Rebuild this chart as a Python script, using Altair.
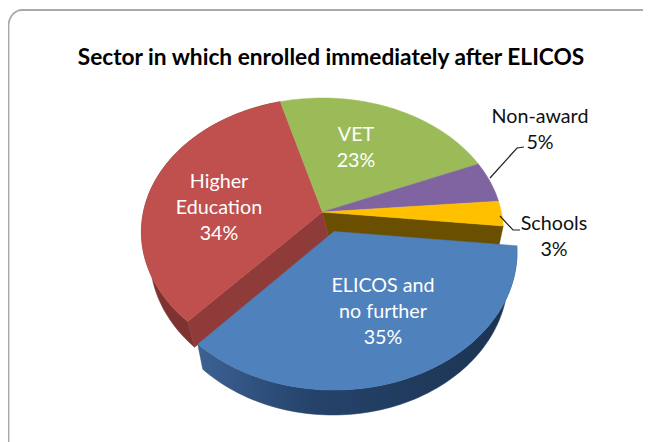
import math
import altair as alt
import pandas as pd

# ---- chart values ----
categories = ["ELICOS and no further", "Higher Education", "VET", "Non-award", "Schools"]
shares = [35, 34, 23, 5, 3]
title_text = "Sector in which enrolled immediately after ELICOS"

COL = dict(zip(categories, ["#4f81bd", "#c0504d", "#9bbb59", "#8064a2", "#ffc000"]))
W, H, OX, OY = 635, 434, 8, 8
START = 96.0   # first slice boundary, degrees clockwise from north
K = 0.149      # perspective shift of the pie's apex inside its ellipse

# boundaries of each slice in degrees
bounds = {}
a = START
for c, s in zip(categories, shares):
    bounds[c] = (a, a + s * 3.6)
    a += s * 3.6

MAIN = (322.4, 232, 181, 134)
MAIN_LOW = (324, 257, 174, 135)
BLUE = (334, 252, 183, 138)
BLUE_LOW = (333, 277, 175, 138)
FLOOR = (330, 243)  # where the cut faces disappear behind the blue slice


def pt(ell, deg):
    cx, cy, rx, ry = ell
    t = math.radians(deg)
    x, y = math.sin(t), math.cos(t)
    d = 1 + K * y
    return (cx + rx * x * math.sqrt(1 - K * K) / d, cy - ry * (y + K) / d)


def apex(ell):
    return (ell[0], ell[1] - K * ell[3])


def arc(ell, a0, a1):
    n = max(2, int(abs(a1 - a0) / 1.5))
    return [pt(ell, a0 + (a1 - a0) * i / n) for i in range(n + 1)]


X = alt.X("x:Q", scale=alt.Scale(domain=[0, W]), axis=None)
Y = alt.Y("y:Q", scale=alt.Scale(domain=[H, 0]), axis=None)


def frame(points):
    return pd.DataFrame(
        [{"x": x - OX, "y": y - OY, "i": i} for i, (x, y) in enumerate(points)]
    )


def poly(points, fill):
    pts = list(points) + [points[0]]
    stroke = fill if isinstance(fill, str) else "#2a4568"
    return (
        alt.Chart(frame(pts))
        .mark_line(fill=fill, stroke=stroke, strokeWidth=0.5, interpolate="linear", clip=False)
        .encode(x=X, y=Y, order=alt.Order("i:Q"))
    )


def stroke_line(points, color, width):
    return (
        alt.Chart(frame(points))
        .mark_line(stroke=color, strokeWidth=width, interpolate="linear")
        .encode(x=X, y=Y, order=alt.Order("i:Q"))
    )


def wedge(ell, c, fill):
    a0, a1 = bounds[c]
    return poly([apex(ell)] + arc(ell, a0, a1), fill)


def label(lines, px, py, color, size=19.7):
    out = []
    for i, t in enumerate(lines):
        out.append(
            alt.Chart(pd.DataFrame({"t": [t]}))
            .mark_text(font="Lato", fontSize=size, color=color, align="center", baseline="middle")
            .encode(text="t:N", x=alt.value(px - OX), y=alt.value(py - OY + 1 + i * 26))
        )
    return out


el, hi, ve, no, sc = categories
layers = []

# outer frame
corner = [(8.5, 442), (8.5, 30)]
corner += [
    (22 - 13.5 * math.cos(math.radians(t)), 26 - 16 * math.sin(math.radians(t)))
    for t in range(0, 91, 10)
]
corner += [(643, 10)]
layers.append(stroke_line(corner, "#a9a9a9", 1.8))

# yellow slice's cut face
y0, y1 = bounds[sc]
layers.append(poly([apex(MAIN), pt(MAIN, y1), pt(MAIN_LOW, y1), FLOOR], "#6a4f00"))

# red outer wall and cut face
r0, r1 = bounds[hi]
layers.append(poly(arc(MAIN, r0, r1) + arc(MAIN_LOW, r1, r0), "#7e3331"))
layers.append(poly([apex(MAIN), pt(MAIN, r0), pt(MAIN_LOW, r0), FLOOR], "#8f3b39"))

# top faces of the slices that stay in place
for c in (hi, ve, no, sc):
    layers.append(wedge(MAIN, c, COL[c]))

# exploded blue slice: wall, then top
b0, b1 = bounds[el]
wall = alt.Gradient(
    gradient="linear",
    x1=0, x2=1, y1=0, y2=0,
    stops=[
        alt.GradientStop(color="#3c6193", offset=0),
        alt.GradientStop(color="#25436b", offset=0.35),
        alt.GradientStop(color="#1b3350", offset=1),
    ],
)
layers.append(poly(arc(BLUE, b0, b1) + arc(BLUE_LOW, b1, b0), wall))
layers.append(wedge(BLUE, el, COL[el]))

# leader lines
layers.append(stroke_line([(490, 178), (517, 148), (524, 147)], "#222222", 1.2))
layers.append(stroke_line([(500, 216), (513, 230), (520, 230)], "#222222", 1.2))

# labels
layers += label(["Higher", "Education", "34%"], 219, 181, "white")
layers += label(["VET", "23%"], 356, 134, "white")
layers += label(["ELICOS and", "no further", "35%"], 383, 285, "white")
layers += label(["Non-award", "5%"], 540, 116, "#111111")
layers += label(["Schools", "3%"], 554, 223, "#111111")

# title
layers.append(
    alt.Chart(pd.DataFrame({"t": [title_text]}))
    .mark_text(font="Lato", fontSize=22.7, fontWeight="bold", color="#000000", align="center", baseline="middle")
    .encode(text="t:N", x=alt.value(331 - OX), y=alt.value(58 - OY))
)

chart = (
    alt.layer(*layers)
    .properties(width=W, height=H, padding=0, autosize=alt.AutoSizeParams(type="none"), background="white")
    .configure_view(stroke=None)
)
chart.save("out.html", embed_options={"renderer": "svg", "actions": False})
